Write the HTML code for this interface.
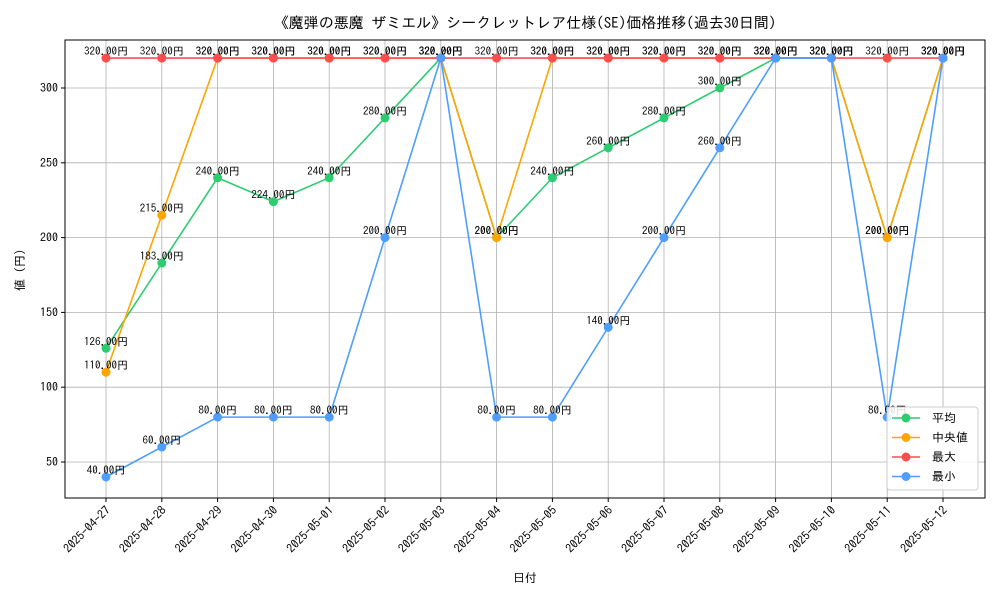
<!DOCTYPE html>
<html><head><meta charset="utf-8">
<style>
body{margin:0;background:#fff;}
svg{display:block;font-family:"IPAGothic","Noto Sans CJK JP",sans-serif;}
</style></head>
<body>
<svg id="chart" width="1000" height="600" xmlns="http://www.w3.org/2000/svg">
<rect width="1000" height="600" fill="#fff"/>
<text x="525" y="28" font-size="15" text-anchor="middle" fill="#000">《魔弾の悪魔 ザミエル》シークレットレア仕様(SE)価格推移(過去30日間)</text>
<g id="grid"></g>
<g id="axes"></g>
<g id="series"></g>
<g id="labels"></g>
<text x="525" y="582" font-size="12" text-anchor="middle">日付</text>
<text transform="translate(24,270) rotate(-90)" font-size="12" text-anchor="middle">値 (円)</text>
<g>
<rect x="887" y="407" width="91" height="83" rx="3" fill="#fff" fill-opacity="0.85" stroke="#ccc"/>
<g id="legend-items"></g>
</g>
</svg>
<script>
const dates=["2025-04-27","2025-04-28","2025-04-29","2025-04-30","2025-05-01","2025-05-02","2025-05-03","2025-05-04","2025-05-05","2025-05-06","2025-05-07","2025-05-08","2025-05-09","2025-05-10","2025-05-11","2025-05-12"];
const avgVals=[126,183,240,224,240,280,320,200,240,260,280,300,320,320,200,320];
const medianVals=[110,215,320,320,320,320,320,200,320,320,320,320,320,320,200,320];
const maxVals=[320,320,320,320,320,320,320,320,320,320,320,320,320,320,320,320];
const minVals=[40,60,80,80,80,200,320,80,80,140,200,260,320,320,80,320];
const yTicks=[50,100,150,200,250,300];
const seriesNames=["平均","中央値","最大","最小"];

const NS="http://www.w3.org/2000/svg";
const L=65,R=985,T=40,B=498;
function xs(i){return 106+i*(943-106)/(dates.length-1);}
function ys(v){return 462-(v-50)*(462-88)/250;}
function mk(tag,attrs,parent){const e=document.createElementNS(NS,tag);for(const k in attrs)e.setAttribute(k,attrs[k]);parent.appendChild(e);return e;}
const grid=document.getElementById('grid'),axes=document.getElementById('axes'),ser=document.getElementById('series'),lab=document.getElementById('labels');
dates.forEach((d,i)=>{
  const g=mk('line',{x1:xs(i),x2:xs(i),y1:T,y2:B,stroke:'#b0b0b0','stroke-width':0.8},grid);
  
  
  mk('line',{x1:xs(i),x2:xs(i),y1:B,y2:B+4,stroke:'#000'},axes);
  const t=mk('text',{x:0,y:0,'font-size':12,'text-anchor':'end',transform:`translate(${xs(i)+5},${B+13}) rotate(-45)`},axes);
  t.textContent=d;
  
  
});
yTicks.forEach(v=>{
  const g=mk('line',{x1:L,x2:R,y1:ys(v),y2:ys(v),stroke:'#b0b0b0','stroke-width':0.8},grid);
  
  
  mk('line',{x1:L-4,x2:L,y1:ys(v),y2:ys(v),stroke:'#000'},axes);
  const t=mk('text',{x:L-7,y:ys(v)+4,'font-size':12,'text-anchor':'end'},axes);
  t.textContent=v;
  
  
});
const fr=mk('rect',{x:L,y:T,width:R-L,height:B-T,fill:'none',stroke:'#000','stroke-width':1},axes);


const all=[[avgVals,'#2ecc71','avg'],[medianVals,'#ffa500','median'],[maxVals,'#ff4d4d','max'],[minVals,'#4d9eff','min']];
all.forEach(([vals,col,nm])=>{
  const p=mk('polyline',{points:vals.map((v,i)=>xs(i)+','+ys(v)).join(' '),fill:'none',stroke:col,'stroke-width':1.6},ser);
  
  
  vals.forEach((v,i)=>{
    const c=mk('circle',{cx:xs(i),cy:ys(v),r:4.5,fill:col},ser);
    
    
    const t=mk('text',{x:xs(i),y:ys(v)-3,'font-size':11,'text-anchor':'middle',fill:'#000'},lab);
    t.textContent=v.toFixed(2)+'円';
    
    
  });
});
const li=document.getElementById('legend-items');
all.forEach(([v,col,nm],k)=>{
  const y=418+k*19.5;
  mk('line',{x1:892,x2:920,y1:y,y2:y,stroke:col,'stroke-width':1.6},li);
  const c=mk('circle',{cx:906,cy:y,r:4.5,fill:col},li);
  
  
  const t=mk('text',{x:932,y:y+4,'font-size':12},li);
  t.textContent=seriesNames[k];
  
  
});
</script>
</body></html>
